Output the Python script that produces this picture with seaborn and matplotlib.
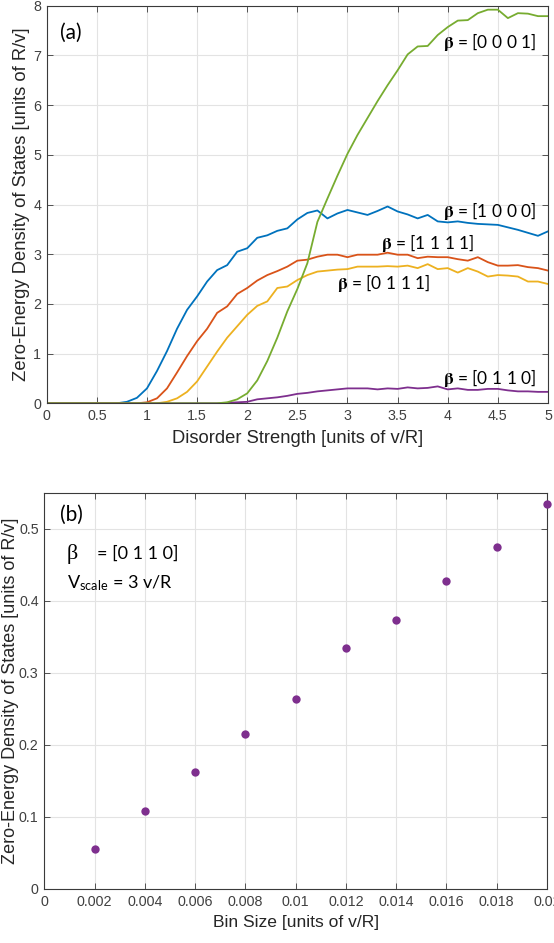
import numpy as np
import pandas as pd
import matplotlib
matplotlib.use("Agg")
import matplotlib.pyplot as plt
import seaborn as sns

# ---------------- data: panel (a) ----------------
disorder = np.round(np.arange(0, 5.001, 0.1), 1)

beta_1000 = [0, 0, 0, 0, 0, 0, 0, 0, 0.03, 0.11,
             0.30, 0.65, 1.05, 1.50, 1.88, 2.15, 2.45, 2.68, 2.78, 3.05,
             3.12, 3.33, 3.38, 3.47, 3.52, 3.70, 3.83, 3.88, 3.72, 3.82,
             3.89, 3.84, 3.79, 3.87, 3.96, 3.86, 3.80, 3.72, 3.79, 3.66,
             3.64, 3.66, 3.63, 3.61, 3.60, 3.59, 3.54, 3.49, 3.43, 3.37,
             3.46]
beta_1111 = [0, 0, 0, 0, 0, 0, 0, 0, 0, 0,
             0.02, 0.10, 0.30, 0.62, 0.95, 1.25, 1.50, 1.82, 1.95, 2.20,
             2.32, 2.47, 2.58, 2.66, 2.75, 2.87, 2.89, 2.95, 2.99, 2.99,
             2.94, 2.99, 2.99, 2.99, 3.03, 2.99, 2.99, 2.92, 2.95, 2.94,
             2.94, 2.90, 2.87, 2.94, 2.84, 2.77, 2.77, 2.78, 2.74, 2.72,
             2.67]
beta_0111 = [0, 0, 0, 0, 0, 0, 0, 0, 0, 0,
             0, 0, 0.03, 0.10, 0.23, 0.44, 0.74, 1.04, 1.32, 1.55,
             1.78, 1.96, 2.05, 2.32, 2.35, 2.48, 2.58, 2.65, 2.67, 2.69,
             2.70, 2.75, 2.75, 2.75, 2.76, 2.75, 2.77, 2.72, 2.80, 2.70,
             2.72, 2.63, 2.72, 2.65, 2.55, 2.58, 2.57, 2.55, 2.45, 2.45,
             2.40]
beta_0110 = [0, 0, 0, 0, 0, 0, 0, 0, 0, 0,
             0, 0, 0, 0, 0, 0, 0, 0, 0.01, 0.02,
             0.03, 0.08, 0.10, 0.12, 0.15, 0.19, 0.21, 0.24, 0.26, 0.28,
             0.30, 0.30, 0.30, 0.28, 0.30, 0.29, 0.32, 0.30, 0.31, 0.34,
             0.28, 0.30, 0.27, 0.27, 0.29, 0.29, 0.26, 0.24, 0.24, 0.23,
             0.23]
beta_0001 = [0, 0, 0, 0, 0, 0, 0, 0, 0, 0,
             0, 0, 0, 0, 0, 0, 0, 0, 0.02, 0.08,
             0.20, 0.46, 0.85, 1.32, 1.85, 2.30, 2.82, 3.65, 4.12, 4.58,
             5.02, 5.40, 5.74, 6.08, 6.40, 6.70, 7.02, 7.18, 7.19, 7.41,
             7.57, 7.70, 7.71, 7.85, 7.92, 7.92, 7.75, 7.85, 7.84, 7.79,
             7.79]

series_names = ["[1 0 0 0]", "[1 1 1 1]", "[0 1 1 1]", "[0 1 1 0]", "[0 0 0 1]"]
series_vals = [beta_1000, beta_1111, beta_0111, beta_0110, beta_0001]
series_colors = ["#0072BD", "#D95319", "#EDB120", "#7E2F8E", "#77AC30"]
for v in series_vals:
    assert len(v) == len(disorder), len(v)

x_ticks_a = [0, 0.5, 1, 1.5, 2, 2.5, 3, 3.5, 4, 4.5, 5]
x_ticklabels_a = ["0", "0.5", "1", "1.5", "2", "2.5", "3", "3.5", "4", "4.5", "5"]
y_ticks_a = [0, 1, 2, 3, 4, 5, 6, 7, 8]

# label placement (data coords) for each series in panel (a)
label_pos = {"[0 0 0 1]": (3.95, 7.27), "[1 0 0 0]": (3.95, 3.86),
             "[1 1 1 1]": (3.33, 3.22), "[0 1 1 1]": (2.90, 2.43),
             "[0 1 1 0]": (3.95, 0.50)}

# ---------------- data: panel (b) ----------------
bin_size = [0.002, 0.004, 0.006, 0.008, 0.010, 0.012, 0.014, 0.016, 0.018, 0.020]
dos_b = [0.055, 0.108, 0.163, 0.215, 0.264, 0.334, 0.374, 0.427, 0.474, 0.535]
x_ticks_b = [0, 0.002, 0.004, 0.006, 0.008, 0.01, 0.012, 0.014, 0.016, 0.018, 0.02]
x_ticklabels_b = ["0", "0.002", "0.004", "0.006", "0.008", "0.01", "0.012",
                  "0.014", "0.016", "0.018", "0.02"]
y_ticks_b = [0, 0.1, 0.2, 0.3, 0.4, 0.5]
y_ticklabels_b = ["0", "0.1", "0.2", "0.3", "0.4", "0.5"]

# ---------------- style ----------------
sns.set_theme(style="whitegrid")
plt.rcParams["font.family"] = ["Liberation Sans", "DejaVu Sans"]
plt.rcParams["mathtext.fontset"] = "stix"
TXT = "#262626"
TICK = "#404040"
ANN = ["Lato", "DejaVu Sans"]

W, H = 554, 943
fig = plt.figure(figsize=(W / 100, H / 100), dpi=100)
ax_a = fig.add_axes([46.7 / W, 1 - 403.3 / H, (548 - 46.7) / W, (403.3 - 5.7) / H])
ax_b = fig.add_axes([44.3 / W, 1 - 889 / H, (547 - 44.3) / W, (889 - 492.7) / H])


def style_axes(ax):
    ax.set_facecolor("white")
    ax.grid(True, color="#e3e3e3", linewidth=0.8)
    for s in ax.spines.values():
        s.set_visible(True)
        s.set_color("#3a3a3a")
        s.set_linewidth(0.8)
    ax.tick_params(direction="in", length=4, width=0.6, color="#3a3a3a",
                   top=True, right=True, bottom=True, left=True,
                   labelsize=10.3, labelcolor=TICK, pad=4)
    ax.set_axisbelow(True)


# panel (a)
df_a = pd.concat([pd.DataFrame({"x": disorder, "y": v, "beta": n})
                  for n, v in zip(series_names, series_vals)], ignore_index=True)
sns.lineplot(data=df_a, x="x", y="y", hue="beta", hue_order=series_names,
             palette=series_colors, linewidth=1.3, legend=False, ax=ax_a)
style_axes(ax_a)
ax_a.set_xlim(0, 5)
ax_a.set_ylim(0, 8)
ax_a.set_xticks(x_ticks_a)
ax_a.set_xticklabels(x_ticklabels_a)
ax_a.set_yticks(y_ticks_a)
ax_a.set_xlabel("Disorder Strength [units of v/R]", fontsize=13.2, color=TXT, labelpad=5)
ax_a.set_ylabel("Zero-Energy Density of States [units of R/v]", fontsize=13.2,
                color=TXT, labelpad=2)
ax_a.text(0.13, 7.45, "(a)", fontsize=15, family=ANN, color="black", va="center")
for n in series_names:
    x0, y0 = label_pos[n]
    ax_a.text(x0, y0, r"$\mathbf{\beta}$ = " + n, fontsize=12.5, family=ANN,
              color="black", va="center", ha="left")

# panel (b)
df_b = pd.DataFrame({"bin": bin_size, "dos": dos_b})
sns.scatterplot(data=df_b, x="bin", y="dos", color="#7E2F8E", s=36,
                edgecolor="#7E2F8E", linewidth=0, ax=ax_b, clip_on=False, zorder=3)
style_axes(ax_b)
ax_b.set_xlim(0, 0.02)
ax_b.set_ylim(0, 0.55)
ax_b.set_xticks(x_ticks_b)
ax_b.set_xticklabels(x_ticklabels_b)
ax_b.set_yticks(y_ticks_b)
ax_b.set_yticklabels(y_ticklabels_b)
ax_b.set_xlabel("Bin Size [units of v/R]", fontsize=12.6, color=TXT, labelpad=5)
ax_b.set_ylabel("Zero-Energy Density of States [units of R/v]", fontsize=13,
                color=TXT, labelpad=0)
ax_b.text(0.00062, 0.519, "(b)", fontsize=15, family=ANN, color="black", va="center")
ax_b.text(0.0009, 0.465, "β", fontsize=16, family=["Liberation Serif", "DejaVu Serif"],
          color="black", va="center")
ax_b.text(0.0021, 0.465, "= [0 1 1 0]", fontsize=13, family=ANN, color="black", va="center")
ax_b.text(0.0009, 0.424, r"V$_{\mathregular{scale}}$ = 3 v/R", fontsize=13, family=ANN,
          color="black", va="center")

fig.savefig("out.png", dpi=100)
